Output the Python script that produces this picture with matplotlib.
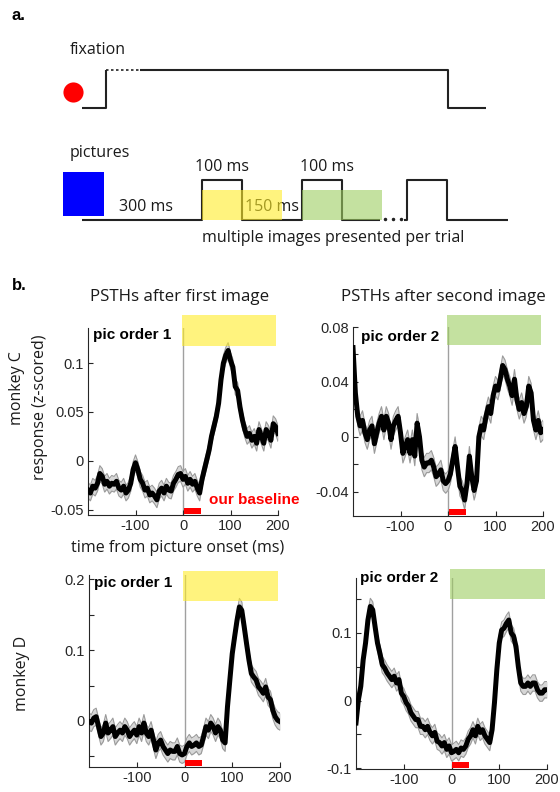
import numpy as np
import matplotlib
matplotlib.use("Agg")
import matplotlib.pyplot as plt
from matplotlib.patches import Rectangle

plt.rcParams['font.family'] = ['Open Sans', 'DejaVu Sans']

# time axis of the PSTHs (ms from picture onset)
t = np.arange(-200, 201, 5)

# monkey C, first image
c1 = [-0.030, -0.033, -0.026, -0.028, -0.023, -0.013, -0.016, -0.024, -0.021, -0.026,
      -0.023, -0.024, -0.021, -0.028, -0.030, -0.026, -0.033, -0.030, -0.023, -0.009,
      -0.002, -0.009, -0.019, -0.023, -0.030, -0.028, -0.035, -0.033, -0.036, -0.040,
      -0.031, -0.028, -0.033, -0.026, -0.030, -0.031, -0.023, -0.019, -0.014, -0.013,
      -0.019, -0.016, -0.023, -0.019, -0.024, -0.021, -0.028, -0.033, -0.019, -0.009,
      0.001, 0.011, 0.025, 0.035, 0.045, 0.059, 0.083, 0.100, 0.108, 0.113,
      0.103, 0.096, 0.076, 0.072, 0.055, 0.042, 0.032, 0.025, 0.028, 0.021,
      0.025, 0.018, 0.032, 0.025, 0.018, 0.032, 0.028, 0.021, 0.038, 0.035,
      0.028]
# monkey C, second image
c2 = [0.065, 0.032, 0.015, 0.008, 0.012, 0.003, -0.002, 0.005, 0.008, -0.005,
      0.003, 0.010, 0.015, 0.005, 0.015, 0.010, -0.002, 0.008, 0.012, 0.015,
      0.003, -0.012, -0.007, -0.002, -0.012, -0.002, -0.014, 0.010, 0.000, -0.017,
      -0.022, -0.019, -0.019, -0.017, -0.022, -0.029, -0.027, -0.024, -0.032, -0.034,
      -0.032, -0.027, -0.017, -0.007, -0.022, -0.036, -0.039, -0.046, -0.034, -0.014,
      -0.029, -0.039, -0.032, 0.000, 0.008, 0.005, 0.015, 0.022, 0.017, 0.030,
      0.037, 0.034, 0.042, 0.052, 0.049, 0.042, 0.037, 0.030, 0.042, 0.027,
      0.020, 0.025, 0.017, 0.022, 0.037, 0.032, 0.012, 0.005, 0.012, 0.003,
      0.005]
# monkey D, first image
d1 = [-0.001, -0.003, 0.004, 0.006, -0.008, -0.022, -0.017, -0.003, -0.017, -0.013,
      -0.008, -0.022, -0.017, -0.013, -0.017, -0.008, -0.013, -0.022, -0.017, -0.013,
      -0.020, -0.008, -0.017, -0.003, -0.017, -0.022, -0.013, -0.027, -0.041, -0.031,
      -0.027, -0.036, -0.041, -0.046, -0.041, -0.043, -0.043, -0.036, -0.046, -0.048,
      -0.046, -0.036, -0.031, -0.036, -0.034, -0.031, -0.036, -0.034, -0.022, -0.008,
      -0.013, -0.003, -0.008, -0.017, -0.008, -0.013, -0.027, -0.031, 0.020, 0.058,
      0.095, 0.119, 0.142, 0.161, 0.156, 0.133, 0.109, 0.086, 0.067, 0.062,
      0.058, 0.048, 0.044, 0.039, 0.048, 0.034, 0.030, 0.015, 0.006, 0.001,
      -0.001]
# monkey D, second image
d2 = [-0.033, 0.001, 0.021, 0.060, 0.085, 0.119, 0.139, 0.134, 0.109, 0.085,
      0.070, 0.053, 0.048, 0.041, 0.036, 0.031, 0.036, 0.026, 0.031, 0.011,
      0.006, -0.003, -0.008, -0.018, -0.023, -0.028, -0.028, -0.038, -0.038, -0.043,
      -0.038, -0.047, -0.052, -0.047, -0.060, -0.062, -0.067, -0.062, -0.072, -0.067,
      -0.077, -0.075, -0.072, -0.077, -0.070, -0.072, -0.067, -0.057, -0.052, -0.043,
      -0.052, -0.038, -0.047, -0.043, -0.052, -0.057, -0.062, -0.043, -0.003, 0.046,
      0.085, 0.104, 0.107, 0.114, 0.119, 0.100, 0.095, 0.080, 0.050, 0.026,
      0.021, 0.021, 0.026, 0.021, 0.026, 0.026, 0.016, 0.011, 0.011, 0.016,
      0.016]
sems = [0.008, 0.007, 0.012, 0.012]

# schedule in the task diagram (ms)
fix_on, fix_dots, fix_off, fix_end = 60, 145, 915, 1010
pic_onsets = [300, 550, 812]
pic_dur = 100
gap_dots = (745, 805)
dot_times = [757, 777, 797]
pic_end = 1065
YEL, GRN = '#ffec28', '#9ecd61'
windows = [(300, 500, YEL), (550, 750, GRN)]

W, H = 560, 792
fig = plt.figure(figsize=(W / 100, H / 100), dpi=100)

def fpos(x, y):
    return x / W, 1 - y / H

# ---------------- a. task diagram ----------------
dax = fig.add_axes([0, 0, 1, 1], zorder=0)
dax.set_xlim(-82 / 0.4, (W - 82) / 0.4)
dax.set_ylim(H, 0)
dax.axis('off')
lk = dict(color='#222222', lw=1.5, solid_capstyle='butt')
lo, hi = 108, 70
dax.plot([0, fix_on, fix_on], [lo, lo, hi], **lk)
dax.plot([fix_on, fix_dots], [hi, hi], color='#222222', lw=1.2, ls=(0, (1.5, 1.5)))
dax.plot([fix_dots, fix_off, fix_off, fix_end], [hi, hi, lo, lo], **lk)
dax.plot([-22.5], [92], 'o', color='#ff0000', ms=14.5, mec='none')

tk = dict(fontsize=11.5, color='#1a1a1a', zorder=2)
dax.text(-30, 50, 'fixation', va='center', ha='left', **tk)
dax.text(-30, 153, 'pictures', va='center', ha='left', **tk)
dax.text(350, 167, '100 ms', va='center', ha='center', **tk)
dax.text(612, 167, '100 ms', va='center', ha='center', **tk)
dax.text(160, 207, '300 ms', va='center', ha='center', **tk)
dax.text(475, 207, '150 ms', va='center', ha='center', **tk)
dax.text(628, 238, 'multiple images presented per trial', va='center', ha='center', **tk)

plo, phi = 220, 180
xs, ys = [0], [plo]
for on in pic_onsets[:2]:
    xs += [on, on, on + pic_dur, on + pic_dur]
    ys += [plo, phi, phi, plo]
xs.append(gap_dots[0]); ys.append(plo)
dax.plot(xs, ys, zorder=2, **lk)
on = pic_onsets[2]
dax.plot([gap_dots[1], on, on, on + pic_dur, on + pic_dur, pic_end],
         [plo, plo, phi, phi, plo, plo], zorder=2, **lk)
dax.plot(dot_times, [plo - 1] * 3, ls='none', marker='o', ms=1.5, color='#222222')
for (a, b, c) in windows:
    dax.add_patch(Rectangle((a, 190), b - a, plo - 190, facecolor=c, alpha=0.6,
                            edgecolor='none', zorder=3))
dax.add_patch(Rectangle((-47.5, 172), 102.5, 44, facecolor='#0000ff', edgecolor='none'))

fig.text(*fpos(12, 15), 'a.', fontsize=12, fontweight='bold', va='center', ha='left',
         family=['Liberation Sans'])
fig.text(*fpos(12, 285), 'b.', fontsize=12, fontweight='bold', va='center', ha='left',
         family=['Liberation Sans'])

# ---------------- b. PSTH panels ----------------
panels = [
    # left, top, right, bottom (px), data, sem, ylim, ticks, labelled ticks, rect y, colour, text
    ((88, 328, 278, 515), c1, sems[0], (-0.0555, 0.136), np.arange(-0.05, 0.11, 0.05),
     [-0.05, 0, 0.05, 0.1], (0.118, 0.149), YEL, 'pic order 1', (0.026, 0.963)),
    ((353, 327, 543, 516), c2, sems[1], (-0.0576, 0.08), np.arange(-0.04, 0.081, 0.02),
     [-0.04, 0, 0.04, 0.08], (0.0668, 0.0888), GRN, 'pic order 2', (0.04, 0.947)),
    ((89, 575, 280, 767), d1, sems[2], (-0.065, 0.206), np.arange(-0.05, 0.21, 0.05),
     [0, 0.1, 0.2], (0.169, 0.211), YEL, 'pic order 1', (0.026, 0.958)),
    ((356, 578, 547, 769), d2, sems[3], (-0.101, 0.181), np.arange(-0.1, 0.16, 0.05),
     [-0.1, 0, 0.1], (0.15, 0.194), GRN, 'pic order 2', (0.02, 1.0)),
]

def fmt(v):
    return ('%g' % round(v, 3)) if abs(v) > 1e-9 else '0'

for (l, tp, r, b), y, sem, yl, ticks, lab, ry, rc, txt, tpos in panels:
    ax = fig.add_axes([l / W, 1 - b / H, (r - l) / W, (b - tp) / H], zorder=2)
    ax.patch.set_alpha(0)
    y = np.array(y)
    ax.fill_between(t, y - sem, y + sem, color='#d6d6d6', lw=0, zorder=1)
    ax.plot(t, y - sem, color='#9a9a9a', lw=0.8, zorder=2)
    ax.plot(t, y + sem, color='#9a9a9a', lw=0.8, zorder=2)
    ax.plot(t, y, color='black', lw=3.6, zorder=3, solid_joinstyle='round')
    ax.axvline(0, color='#a0a0a0', lw=1, zorder=0.5)
    ax.add_patch(Rectangle((-3, ry[0]), 199, ry[1] - ry[0], facecolor=rc, alpha=0.6,
                           edgecolor='none', zorder=4, clip_on=False))
    yr = yl[1] - yl[0]
    ax.add_patch(Rectangle((2, yl[0] + 0.005 * yr), 35, 0.032 * yr, facecolor='#ff0000',
                           edgecolor='none', zorder=5, clip_on=False))
    ax.set_xlim(-200, 200)
    ax.set_ylim(*yl)
    ax.set_xticks([-100, 0, 100, 200])
    ax.set_xticklabels(['-100', '0', '100', '200'])
    ax.set_yticks(ticks)
    ax.set_yticklabels([fmt(v) if any(abs(v - q) < 1e-6 for q in lab) else '' for v in ticks])
    for s in ['top', 'right']:
        ax.spines[s].set_visible(False)
    for s in ['left', 'bottom']:
        ax.spines[s].set_color('#262626')
        ax.spines[s].set_linewidth(0.8)
    ax.tick_params(direction='in', length=3.5, width=0.8, colors='#262626',
                   labelsize=10.5, pad=3)
    for lb in ax.get_xticklabels() + ax.get_yticklabels():
        lb.set_family(['Liberation Sans'])
    ax.text(tpos[0], tpos[1], txt, transform=ax.transAxes, ha='left', va='center',
            fontsize=11, fontweight='bold', family=['Liberation Sans'], zorder=6)

lt = dict(fontsize=11.5, color='#1a1a1a', ha='center', va='center')
fig.text(*fpos(180, 297), 'PSTHs after first image', fontsize=12.2, color='#1a1a1a',
         ha='center', va='center')
fig.text(*fpos(443, 297), 'PSTHs after second image', fontsize=12.2, color='#1a1a1a',
         ha='center', va='center')
fig.text(*fpos(17, 388), 'monkey C', rotation=90, **lt)
fig.text(*fpos(40, 407), 'response (z-scored)', rotation=90, **lt)
fig.text(*fpos(22, 673), 'monkey D', rotation=90, **lt)
fig.text(*fpos(178, 548), 'time from picture onset (ms)', **lt)
fig.text(*fpos(209, 500), 'our baseline', color='#ff0000', fontsize=11, fontweight='bold',
         ha='left', va='center', family=['Liberation Sans'])

fig.savefig('out.png', dpi=100)
